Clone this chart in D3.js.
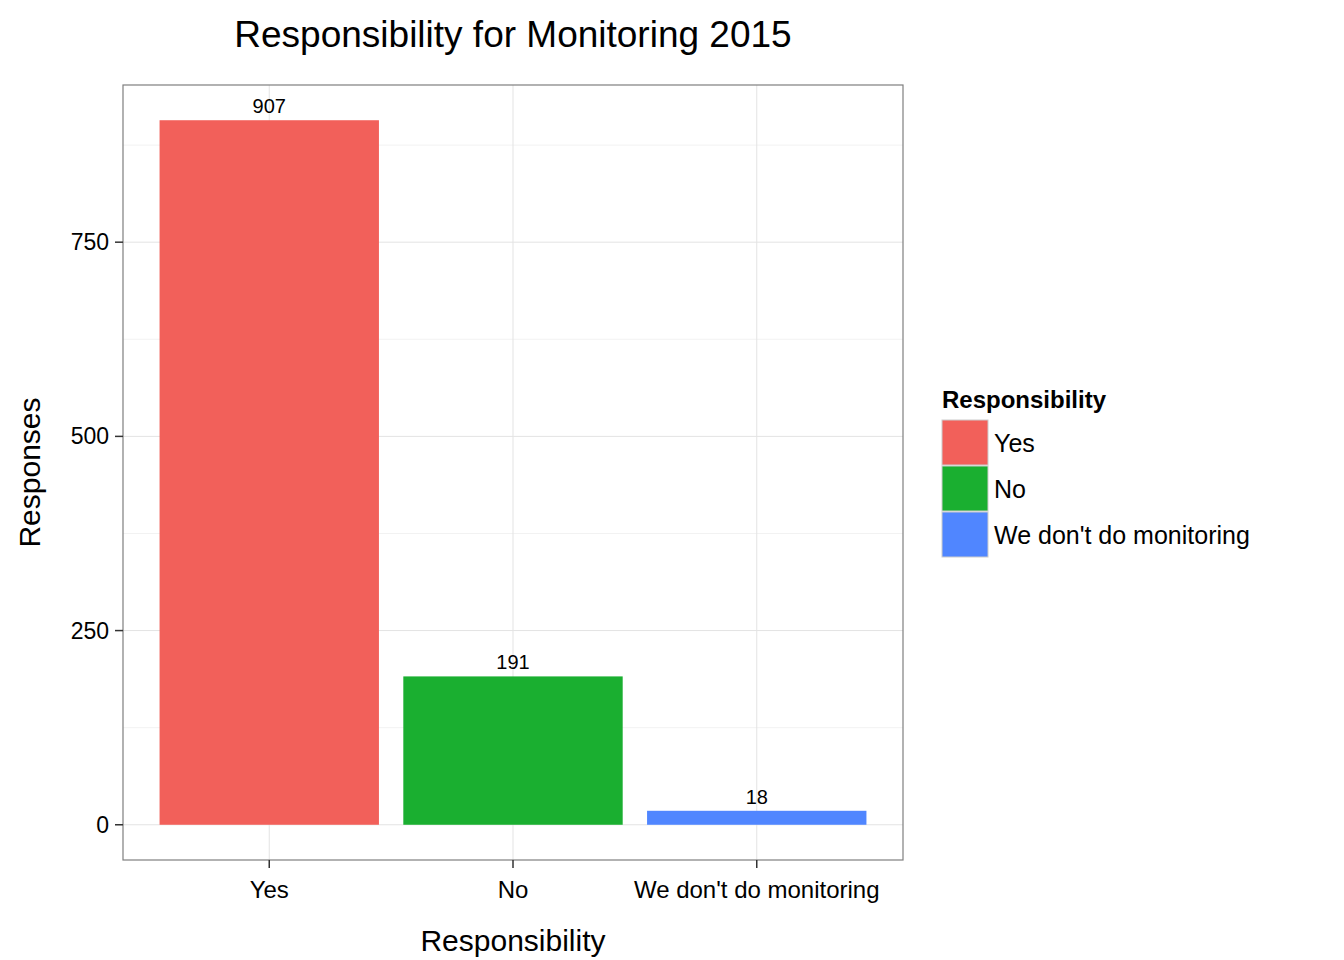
<!DOCTYPE html>
<html><head><meta charset="utf-8">
<script src="https://cdn.jsdelivr.net/npm/d3@7"></script>
<style>body{margin:0;background:#fff}text{font-family:"Liberation Sans",Arial,sans-serif}</style>
</head><body><svg id="c" width="1344" height="960"></svg>
<script>
const categories = ["Yes", "No", "We don't do monitoring"];
const responses = [907, 191, 18];
const colors = ["#F2605A", "#1AAF30", "#5086FF"];
const yTicks = [0, 250, 500, 750];
const yMinor = [125, 375, 625, 875];

const svg = d3.select("#c");
const L = 123, R = 903, T = 85, B = 860;

// discrete x like ggplot: 0.6 expansion each side
var step = (R - L) / 3.2;
var x = d3.scalePoint().domain(categories).range([L + step * 0.6, R - step * 0.6]);
var bw = step * 0.9;
var maxV = d3.max(responses);
var y = d3.scaleLinear().domain([-maxV * 0.05, maxV * 1.05]).range([B, T]);

// grid
svg.selectAll(".minor").data(yMinor).join("line")
  .attr("x1", L).attr("x2", R).attr("y1", d => y(d)).attr("y2", d => y(d))
  .attr("stroke", "#f2f2f2").attr("stroke-width", 1);
svg.selectAll(".major").data(yTicks).join("line")
  .attr("x1", L).attr("x2", R).attr("y1", d => y(d)).attr("y2", d => y(d))
  .attr("stroke", "#e3e3e3").attr("stroke-width", 1);
svg.selectAll(".vmajor").data(categories).join("line")
  .attr("x1", d => x(d)).attr("x2", d => x(d)).attr("y1", T).attr("y2", B)
  .attr("stroke", "#e3e3e3").attr("stroke-width", 1);

// bars
svg.selectAll(".bar").data(responses).join("rect")
  .attr("x", (d, i) => x(categories[i]) - bw / 2).attr("width", bw)
  .attr("y", d => y(d)).attr("height", d => y(0) - y(d))
  .attr("fill", (d, i) => colors[i]);
svg.selectAll(".lab").data(responses).join("text")
  .attr("x", (d, i) => x(categories[i])).attr("y", d => y(d) - 7)
  .attr("text-anchor", "middle").attr("font-size", 20).text(d => d);

svg.append("rect").attr("x", L).attr("y", T).attr("width", R - L).attr("height", B - T)
  .attr("fill", "none").attr("stroke", "#7f7f7f").attr("stroke-width", 1.2);

// axes
yTicks.forEach(t => {
  svg.append("line").attr("x1", L - 8).attr("x2", L).attr("y1", y(t)).attr("y2", y(t)).attr("stroke", "#333").attr("stroke-width", 1.5);
  svg.append("text").attr("x", L - 14).attr("y", y(t)).attr("dy", "0.35em").attr("text-anchor", "end").attr("font-size", 23).text(t);
});
categories.forEach(c => {
  svg.append("line").attr("x1", x(c)).attr("x2", x(c)).attr("y1", B).attr("y2", B + 8).attr("stroke", "#333").attr("stroke-width", 1.5);
  svg.append("text").attr("x", x(c)).attr("y", B + 38).attr("text-anchor", "middle").attr("font-size", 24).text(c);
});

svg.append("text").attr("x", (L + R) / 2).attr("y", 951).attr("text-anchor", "middle").attr("font-size", 30).text("Responsibility");
svg.append("text").attr("transform", `translate(40,${(T + B) / 2}) rotate(-90)`).attr("text-anchor", "middle").attr("font-size", 30).text("Responses");
svg.append("text").attr("x", (L + R) / 2).attr("y", 47).attr("text-anchor", "middle").attr("font-size", 37).text("Responsibility for Monitoring 2015");

// legend
svg.append("text").attr("x", 942).attr("y", 408).attr("font-size", 24).attr("font-weight", "bold").text("Responsibility");
categories.forEach((c, i) => {
  svg.append("rect").attr("x", 942).attr("y", 420 + i * 46).attr("width", 46).attr("height", 45)
    .attr("fill", colors[i]).attr("stroke", "#ccc").attr("stroke-width", 1);
  svg.append("text").attr("x", 994).attr("y", 443 + i * 46).attr("dy", "0.35em").attr("font-size", 25).text(c);
});
</script></body></html>
